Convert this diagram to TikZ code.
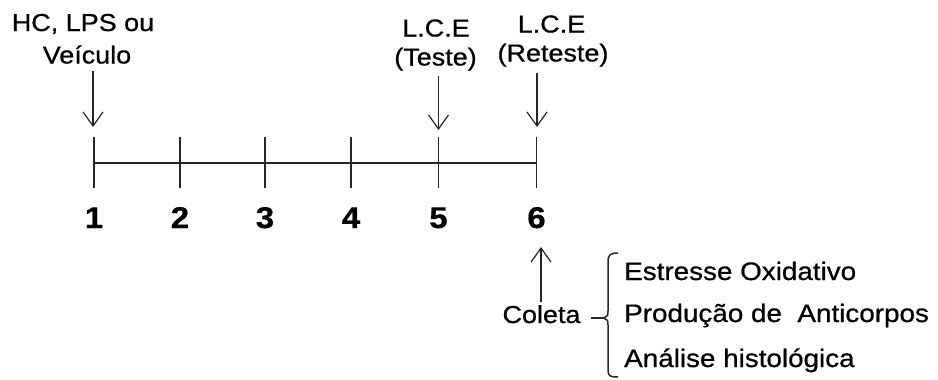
\documentclass[tikz,border=0pt]{standalone}
\usepackage{fontspec}
\setmainfont{Liberation Sans}[FakeStretch=1.1,FakeBold=0.7]
\usetikzlibrary{arrows.meta}
\begin{document}
\begin{tikzpicture}[x=1pt,y=-1pt,
  lbl/.style={inner sep=0pt, anchor=base, font=\fontsize{24.5}{28}\selectfont},
  item/.style={inner sep=0pt, anchor=base west, font=\fontsize{25.3}{28}\selectfont},
  num/.style={inner sep=0pt, anchor=base, font=\fontsize{30}{34}\selectfont\bfseries},
  axis/.style={line width=1.6pt, black!85},
  arr/.style={line width=1.4pt, black!85, -{Straight Barb[length=14pt,width=20pt,line width=1.2pt]}},
  brace/.style={line width=1.5pt, black!85}]
\useasboundingbox (0,0) rectangle (938,380);
% ticks
\foreach \n/\x in {1/94,2/180,3/265,4/351,5/438.5,6/536.5}{
  \coordinate (t\n top) at (\x,137);
  \coordinate (t\n bot) at (\x,188);
  \coordinate (t\n) at (\x,163);
  \draw[axis] (t\n top) -- (t\n bot);
  \node[num] (n\n) at (\x,228) {\n};
}
\draw[axis] (t1) -- (t6);
% top labels
\node[lbl] (hc1) at (83,31) {HC, LPS ou};
\node[lbl] (hc2) at (87,63.5) {Veículo};
\node[lbl] (lce1) at (436,36.5) {L.C.E};
\node[lbl] (lce2) at (435.5,65.5) {(Teste)};
\node[lbl] (lce3) at (551.5,32.5) {L.C.E};
\node[lbl] (lce4) at (553,61.5) {(Reteste)};
% arrow endpoints
\coordinate (a1s) at (93,71);
\coordinate (a1e) at (93,127);
\coordinate (a5s) at (438.5,76);
\coordinate (a5e) at (438.5,130);
\coordinate (a6s) at (537,73);
\coordinate (a6e) at (537,127);
\draw[arr] (a1s) -- (a1e);
\draw[arr] (a5s) -- (a5e);
\draw[arr] (a6s) -- (a6e);
% coleta
\node[lbl] (col) at (541.5,323) {Coleta};
\coordinate (c1) at (541,302);
\coordinate (c2) at (541,247);
\draw[arr] (c1) -- (c2);
% brace
\coordinate (d1) at (591,318);
\coordinate (d2) at (603,318);
\draw[brace] (d1) -- (d2);
\draw[brace] (618,253) .. controls (610,253) and (608,255) .. (608,262) -- (608,311)
  .. controls (608,316) .. (603,318) .. controls (608,320) .. (608,325) -- (608,370)
  .. controls (608,376) and (610,377) .. (618,377);
\node[item] (i1) at (624,280) {Estresse Oxidativo};
\node[item] (i2) at (624,322) {Produção de\ \ Anticorpos};
\node[item] (i3) at (624,367) {Análise histológica};
\end{tikzpicture}
\end{document}
